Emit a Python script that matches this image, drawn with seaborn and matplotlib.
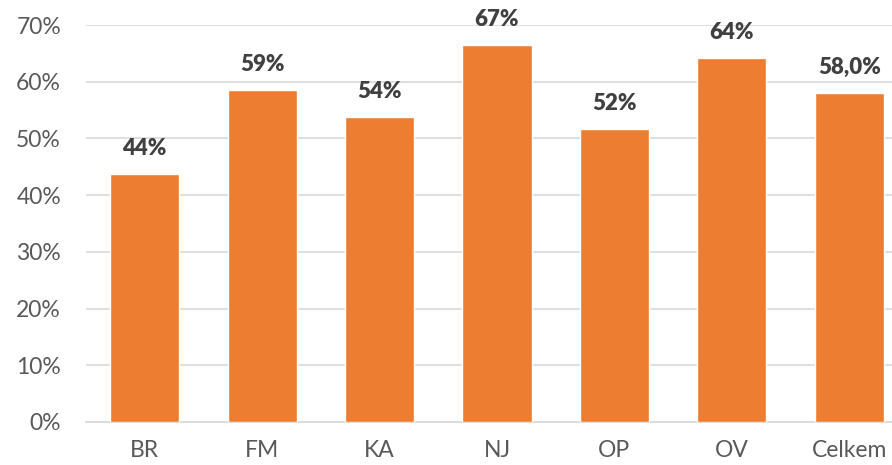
import matplotlib
matplotlib.use("Agg")
import matplotlib.pyplot as plt
import matplotlib.ticker as mticker
import seaborn as sns
import pandas as pd

# data
categories = ["BR", "FM", "KA", "NJ", "OP", "OV", "Celkem"]
values = [43.7, 58.5, 53.7, 66.5, 51.7, 64.1, 58.0]
value_labels = ["44%", "59%", "54%", "67%", "52%", "64%", "58,0%"]
y_ticks = [0, 10, 20, 30, 40, 50, 60, 70]

df = pd.DataFrame({"cat": categories, "val": values})

sns.set_theme(style="white")
plt.rcParams["font.family"] = ["Lato", "DejaVu Sans"]

ORANGE = "#ED7D31"
GRID = "#D9D9D9"

fig = plt.figure(figsize=(8.92, 4.65), dpi=100)
# axes runs slightly past the right edge, as in the cropped original
ax = fig.add_axes([86 / 892, 1 - 422 / 465, (908 - 86) / 892, (422 - 25) / 465])

sns.barplot(data=df, x="cat", y="val", color=ORANGE, width=0.59,
            saturation=1, ax=ax, zorder=3)

for i, (v, lab) in enumerate(zip(values, value_labels)):
    ax.annotate(lab, (i, v), xytext=(0, 11), textcoords="offset points",
                ha="center", va="bottom", fontsize=16, fontweight="heavy",
                color="#404040")

ax.set_ylim(0, 70)
ax.set_xlim(-0.5, len(categories) - 0.5)
ax.set_yticks(y_ticks)
ax.yaxis.set_major_formatter(mticker.FuncFormatter(lambda x, p: f"{x:.0f}%"))
ax.set_xlabel("")
ax.set_ylabel("")
ax.grid(axis="y", color=GRID, linewidth=1.2, zorder=0)
ax.grid(axis="x", visible=False)
for s in ["top", "right", "left"]:
    ax.spines[s].set_visible(False)
ax.spines["bottom"].set_color(GRID)
ax.spines["bottom"].set_linewidth(1.2)
ax.tick_params(axis="y", length=0, pad=18, labelsize=16.5, labelcolor="#595959")
ax.tick_params(axis="x", length=0, pad=13, labelsize=16.5, labelcolor="#595959")

fig.savefig("out.png", dpi=100)
